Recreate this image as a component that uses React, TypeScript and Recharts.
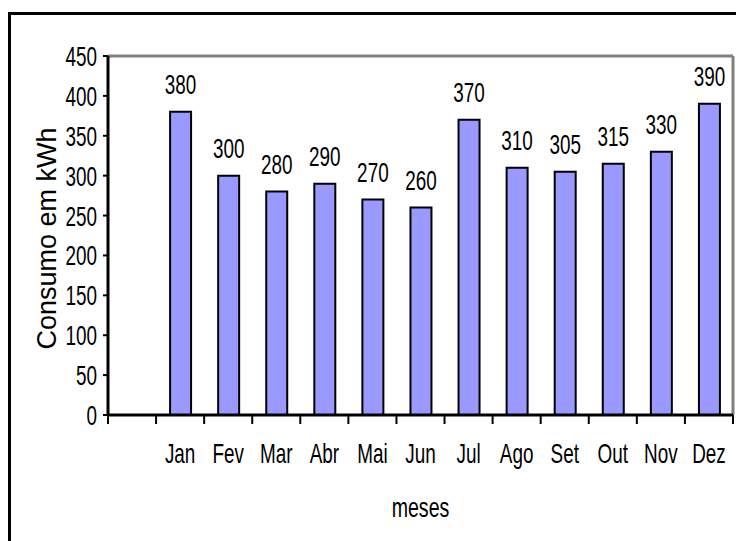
import React from "react";
import { BarChart, Bar, XAxis, YAxis, LabelList, Label, ReferenceLine } from "recharts";

// meses de consumo (a primeira categoria fica vazia, como no original)
const months = ["", "Jan", "Fev", "Mar", "Abr", "Mai", "Jun", "Jul", "Ago", "Set", "Out", "Nov", "Dez"];
const consumo: (number | null)[] = [null, 380, 300, 280, 290, 270, 260, 370, 310, 305, 315, 330, 390];
const yTicks = [0, 50, 100, 150, 200, 250, 300, 350, 400, 450];

const W = 728;
const H = 533;
const MARGIN = { top: 48, right: 3, left: 0, bottom: 56 };
const Y_AXIS_W = 100;
const PLOT_W = W - MARGIN.left - MARGIN.right - Y_AXIS_W;

const FONT = "'Liberation Sans', Arial, sans-serif";
const SX = 0.7;

const rows = months.map((m, i) => ({ month: m, value: consumo[i] }));

function Txt({ x, y, children, anchor = "middle", size = 27 }: any) {
  return (
    <text
      transform={`translate(${x},${y}) scale(${SX},1)`}
      textAnchor={anchor}
      fontFamily={FONT}
      fontSize={size}
      fill="#000"
    >
      {children}
    </text>
  );
}

function XTick(props: any) {
  const { x, y, payload, index } = props;
  const band = PLOT_W / months.length;
  const left = x - band / 2;
  return (
    <g>
      <line x1={left} x2={left} y1={y} y2={y + 9} stroke="#000" strokeWidth={2} />
      {index === months.length - 1 && (
        <line x1={x + band / 2} x2={x + band / 2} y1={y} y2={y + 9} stroke="#000" strokeWidth={2} />
      )}
      <Txt x={x} y={y + 48}>{payload.value}</Txt>
    </g>
  );
}

function YTick(props: any) {
  const { x, y, payload } = props;
  return <Txt x={x} y={y + 10} anchor="end">{payload.value}</Txt>;
}

function BarValue(props: any) {
  const { x, y, width, value } = props;
  if (value == null) return null;
  return <Txt x={x + width / 2} y={y - 18}>{value}</Txt>;
}

export default function App() {
  return (
    <div
      style={{
        position: "fixed",
        left: 0,
        top: 0,
        width: 736,
        height: 541,
        overflow: "hidden",
        background: "#fff",
      }}
    >
      <div
        style={{
          position: "absolute",
          left: 8,
          top: 12,
          width: 780,
          height: 600,
          border: "3px solid #000",
        }}
      />
      <div style={{ position: "absolute", left: 8, top: 8 }}>
        <BarChart width={W} height={H} data={rows} margin={MARGIN} barSize={21}>
          <XAxis
            dataKey="month"
            height={70}
            tickSize={0}
            tickMargin={0}
            tickLine={false}
            interval={0}
            axisLine={{ stroke: "#000", strokeWidth: 3 }}
            tick={<XTick />}
          >
            <Label
              content={({ viewBox }: any) => (
                <Txt x={viewBox.x + viewBox.width / 2} y={viewBox.y + 102} size={28}>
                  meses
                </Txt>
              )}
            />
          </XAxis>
          <YAxis
            width={Y_AXIS_W}
            domain={[0, 450]}
            ticks={yTicks}
            interval={0}
            tickSize={5}
            tickMargin={6}
            tickLine={{ stroke: "#000", strokeWidth: 2 }}
            axisLine={{ stroke: "#000", strokeWidth: 3 }}
            tick={<YTick />}
          >
            <Label
              content={({ viewBox }: any) => {
                const cx = viewBox.x + 39;
                const cy = viewBox.y + viewBox.height / 2 + 3;
                return (
                  <text
                    transform={`translate(${cx},${cy}) rotate(-90)`}
                    textAnchor="middle"
                    dy={9}
                    fontFamily={FONT}
                    fontSize={27}
                    fill="#000"
                  >
                    Consumo em kWh
                  </text>
                );
              }}
            />
          </YAxis>
          <ReferenceLine y={450} stroke="#808080" strokeWidth={3} />
          <ReferenceLine x="Dez" position="end" stroke="#808080" strokeWidth={3} />
          <Bar dataKey="value" fill="#9999ff" stroke="#000" strokeWidth={2} isAnimationActive={false}>
            <LabelList dataKey="value" content={<BarValue />} />
          </Bar>
        </BarChart>
      </div>
    </div>
  );
}
